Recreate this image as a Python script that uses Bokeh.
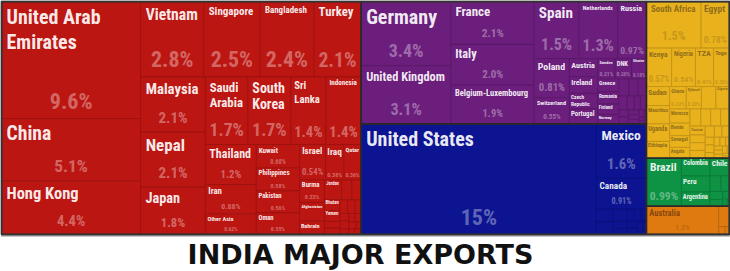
import math
from bokeh.plotting import figure
from bokeh.models import Range1d, ColumnDataSource
from bokeh.embed import file_html
from bokeh.resources import INLINE
from bokeh.core.properties import value

# ---------------- data ----------------
title_text = "INDIA MAJOR EXPORTS"

continents = ["Asia", "Europe", "North America", "Africa", "South America", "Oceania"]
continent_colors = ["#BC1612", "#6B1E7C", "#0C1491", "#E9B11C", "#0E9345", "#DF7A10"]
continent_text_colors = ["#FFFFFF", "#FFFFFF", "#FFFFFF", "#86661A", "#FFFFFF", "#7E420C"]

asia_countries = ["United Arab Emirates", "China", "Hong Kong", "Vietnam", "Singapore", "Bangladesh",
                  "Turkey", "Malaysia", "Nepal", "Japan", "Saudi Arabia", "South Korea", "Sri Lanka",
                  "Indonesia", "Thailand", "Iran", "Other Asia", "Kuwait", "Philippines", "Pakistan",
                  "Oman", "Israel", "Iraq", "Qatar", "Burma", "Afghanistan", "Bahrain", "Jordan",
                  "Cambodia", "Kazakhstan", "Bhutan", "Yemen", "Georgia", "Uzbekistan", "Maldives",
                  "Lebanon", "Azerbaijan", "Syria", "Brunei", "Kyrgyzstan", "Macau", "Laos",
                  "Tajikistan", "Mongolia", "Armenia", "Turkmenistan"]
asia_shares = [9.6, 5.1, 4.4, 2.8, 2.5, 2.4,
               2.1, 2.1, 2.1, 1.8, 1.7, 1.7, 1.4,
               1.4, 1.2, 0.88, 0.62, 0.60, 0.58, 0.56,
               0.55, 0.54, 0.38, 0.36, 0.33, 0.27, 0.20, 0.20,
               0.12, 0.11, 0.10, 0.10, 0.06, 0.06, 0.06,
               0.06, 0.05, 0.04, 0.04, 0.03, 0.03, 0.03,
               0.03, 0.02, 0.02, 0.02]

europe_countries = ["Germany", "United Kingdom", "France", "Italy", "Belgium-Luxembourg", "Spain",
                    "Netherlands", "Russia", "Poland", "Switzerland", "Austria", "Ireland",
                    "Czech Republic", "Portugal", "Sweden", "DNK", "Ukraine", "Greece", "Romania",
                    "Finland", "Norway", "Hungary", "Slovenia", "Slovakia", "Bulgaria", "Croatia",
                    "Malta", "Lithuania", "Latvia", "Estonia", "Serbia", "Belarus", "Cyprus",
                    "Albania", "Bosnia", "Macedonia", "Moldova", "Iceland"]
europe_shares = [3.4, 3.1, 2.1, 2.0, 1.9, 1.5,
                 1.3, 0.97, 0.81, 0.55, 0.30, 0.28,
                 0.26, 0.25, 0.21, 0.20, 0.18, 0.16, 0.15,
                 0.13, 0.12, 0.10, 0.09, 0.08, 0.07, 0.06,
                 0.05, 0.05, 0.04, 0.04, 0.03, 0.03, 0.03,
                 0.02, 0.01, 0.01, 0.01, 0.01]

north_america_countries = ["United States", "Mexico", "Canada", "Guatemala", "Dominican Republic",
                           "Panama", "Honduras", "Jamaica", "Trinidad and Tobago", "Costa Rica",
                           "El Salvador", "Haiti", "Nicaragua", "Cuba", "Bahamas", "Barbados"]
north_america_shares = [15.3, 1.6, 0.91, 0.12, 0.12,
                        0.10, 0.06, 0.05, 0.05, 0.05,
                        0.04, 0.04, 0.04, 0.03, 0.02, 0.02]

africa_countries = ["South Africa", "Egypt", "Kenya", "Nigeria", "TZA", "Togo", "Sudan", "Mauritius",
                    "Uganda", "Ethiopia", "Ghana", "Djibouti", "Mozambique", "Algeria", "Morocco",
                    "Benin", "Senegal", "Angola", "Somalia", "Madagascar", "Cameroon", "Cote d'Ivoire",
                    "Tunisia", "DR Congo", "Guinea", "Zambia", "Libya", "Zimbabwe", "Malawi", "Liberia",
                    "Congo", "Gabon", "Burkina Faso", "Mali", "Niger", "Sierra Leone", "Rwanda",
                    "Namibia", "Botswana", "Gambia", "Seychelles", "Mauritania"]
africa_shares = [1.5, 0.78, 0.57, 0.54, 0.41, 0.36, 0.26, 0.25,
                 0.24, 0.23, 0.22, 0.20, 0.19, 0.18, 0.17,
                 0.15, 0.14, 0.13, 0.11, 0.10, 0.10, 0.09,
                 0.08, 0.07, 0.07, 0.07, 0.06, 0.05, 0.05, 0.04,
                 0.04, 0.03, 0.03, 0.03, 0.02, 0.02, 0.02,
                 0.02, 0.02, 0.01, 0.01, 0.01]

south_america_countries = ["Brazil", "Colombia", "Peru", "Argentina", "Chile", "Ecuador", "Venezuela",
                           "Paraguay", "Uruguay", "Bolivia", "Guyana", "Suriname"]
south_america_shares = [0.99, 0.30, 0.27, 0.24, 0.20, 0.10, 0.08,
                        0.06, 0.05, 0.03, 0.02, 0.01]

oceania_countries = ["Australia", "New Zealand", "Papua New Guinea", "Fiji"]
oceania_shares = [1.2, 0.13, 0.03, 0.02]

groups = [
    (asia_countries, asia_shares),
    (europe_countries, europe_shares),
    (north_america_countries, north_america_shares),
    (africa_countries, africa_shares),
    (south_america_countries, south_america_shares),
    (oceania_countries, oceania_shares),
]

# ---------------- styling ----------------
W, H = 730, 271
TM = (1.0, 1.0, 729.0, 234.0)  # treemap area
LABEL_FONT = "'Liberation Sans Narrow', 'Roboto Condensed', Roboto, sans-serif"
TITLE_FONT = "DejaVu Sans"
NAME_MAX, PCT_MAX, MIN_FS, MIN_PCT = 20.0, 22.0, 3.6, 4.6
PHI = (1 + 5 ** 0.5) / 2


# ---------------- d3-style squarified treemap ----------------
def dice(vals, x0, y0, x1, y1, total):
    k = (x1 - x0) / total if total else 0
    out, x = [], x0
    for v in vals:
        out.append((x, y0, x + v * k, y1))
        x += v * k
    return out


def slice_(vals, x0, y0, x1, y1, total):
    k = (y1 - y0) / total if total else 0
    out, y = [], y0
    for v in vals:
        out.append((x0, y, x1, y + v * k))
        y += v * k
    return out


def squarify(values, x0, y0, x1, y1, ratio=PHI):
    rects = []
    n = len(values)
    i0 = i1 = 0
    total = float(sum(values))
    while i0 < n:
        dx, dy = x1 - x0, y1 - y0
        s = values[i1]
        i1 += 1
        mn = mx = s
        alpha = max(dy / dx, dx / dy) / (total * ratio)
        beta = s * s * alpha
        best = max(mx / beta, beta / mn)
        while i1 < n:
            nv = values[i1]
            s += nv
            mn, mx = min(mn, nv), max(mx, nv)
            beta = s * s * alpha
            r = max(mx / beta, beta / mn)
            if r > best:
                s -= nv
                break
            best = r
            i1 += 1
        row = values[i0:i1]
        if dx < dy:
            ny = y0 + dy * s / total
            rects += dice(row, x0, y0, x1, ny, s)
            y0 = ny
        else:
            nx = x0 + dx * s / total
            rects += slice_(row, x0, y0, nx, y1, s)
            x0 = nx
        total -= s
        i0 = i1
    return rects


def mix(c, t, other=(0, 0, 0)):
    r, g, b = int(c[1:3], 16), int(c[3:5], 16), int(c[5:7], 16)
    r, g, b = [round(a + (o - a) * t) for a, o in zip((r, g, b), other)]
    return "#%02x%02x%02x" % (r, g, b)


def text_em(s):
    w = 0.0
    for ch in s:
        if ch in "il.,'|!I":
            w += 0.28
        elif ch in "jft":
            w += 0.33
        elif ch == "r":
            w += 0.39
        elif ch == "m":
            w += 0.89
        elif ch == "M":
            w += 0.83
        elif ch == "w":
            w += 0.78
        elif ch == "W":
            w += 0.94
        elif ch == " ":
            w += 0.28
        elif ch == "%":
            w += 0.89
        elif ch == "-":
            w += 0.33
        elif ch.isdigit():
            w += 0.556
        elif ch.isupper():
            w += 0.72
        else:
            w += 0.6
    return w * 0.84


def fmt(v):
    if v >= 10:
        return "%.0f%%" % v
    if v >= 1:
        return "%.1f%%" % v
    return "%.2f%%" % v


# order continents and countries by value
cont_order = sorted(range(len(groups)), key=lambda i: -sum(groups[i][1]))
cont_totals = [sum(groups[i][1]) for i in cont_order]
cont_rects = squarify(cont_totals, *TM)

leaf = dict(left=[], right=[], top=[], bottom=[], fill=[], line=[])
outl = dict(left=[], right=[], top=[], bottom=[])
names = dict(x=[], y=[], text=[], size=[], color=[])
pcts = dict(x=[], y=[], text=[], size=[], color=[])

for ci, (cx0, cy0, cx1, cy1) in zip(cont_order, cont_rects):
    cn, cv = groups[ci]
    order = sorted(range(len(cv)), key=lambda i: -cv[i])
    vals = [cv[i] for i in order]
    rects = squarify(vals, cx0, cy0, cx1, cy1)
    col = continent_colors[ci]
    tcol = continent_text_colors[ci]
    outl["left"].append(cx0); outl["right"].append(cx1)
    outl["top"].append(cy0); outl["bottom"].append(cy1)
    for i, (x0, y0, x1, y1) in zip(order, rects):
        leaf["left"].append(x0); leaf["right"].append(x1)
        leaf["top"].append(y0); leaf["bottom"].append(y1)
        leaf["fill"].append(col); leaf["line"].append(mix(col, 0.16))
        w, h = x1 - x0, y1 - y0
        pad = max(1.0, min(5.0, 0.1 * min(w, h)))
        aw, ah = w - 2 * pad, h - 2 * pad
        name = cn[i]
        pct = fmt(cv[i])
        words = name.split(" ")
        options = [[name]]
        if len(words) > 1:
            splits = [[" ".join(words[:k]), " ".join(words[k:])] for k in range(1, len(words))]
            splits.sort(key=lambda o: max(text_em(l) for l in o))
            options.append(splits[0])

        def best_fit(extra):
            sizes = [min(NAME_MAX, aw / max(text_em(l) for l in opt), ah / (1.15 * len(opt) + extra))
                     for opt in options]
            if len(sizes) > 1 and sizes[1] > 1.25 * sizes[0]:
                return sizes[1], options[1]
            return sizes[0], options[0]

        sn, lines = best_fit(1.5)
        sp = min(PCT_MAX, aw / text_em(pct), ah / 3.0)
        show_pct = sn >= MIN_FS and sp >= MIN_PCT and h >= 20
        if not show_pct:
            sn, lines = best_fit(0.0)
            sn = min(sn, 0.45 * h)
        if sn >= MIN_FS:
            names["x"].append(x0 + pad); names["y"].append(y0 + pad * 0.6)
            names["text"].append("\n".join(lines)); names["size"].append("%.1fpx" % sn)
            names["color"].append(tcol)
        if show_pct:
            pcts["x"].append((x0 + x1) / 2); pcts["y"].append(y1 - pad)
            pcts["text"].append(pct); pcts["size"].append("%.1fpx" % sp)
            pcts["color"].append(tcol)

# ---------------- figure ----------------
p = figure(width=W, height=H, x_range=Range1d(0, W), y_range=Range1d(H, 0),
           output_backend="svg", toolbar_location=None, min_border=0,
           x_axis_location=None, y_axis_location=None)
p.grid.visible = False
p.outline_line_color = None
p.background_fill_color = "white"
p.border_fill_color = "white"

p.quad(left="left", right="right", top="top", bottom="bottom", fill_color="fill",
       line_color="line", line_width=1, source=ColumnDataSource(leaf))
p.quad(left="left", right="right", top="top", bottom="bottom", fill_color=None,
       line_color="#2a2a2a", line_width=1.5, source=ColumnDataSource(outl))
p.quad(left=[TM[0]], right=[TM[2]], top=[TM[1]], bottom=[TM[3]], fill_color=None,
       line_color="#333333", line_width=2)
p.segment(x0=[0], x1=[W], y0=[236], y1=[236], line_color="#c8c8c8", line_width=1)

p.text(x="x", y="y", text="text", text_font_size="size", text_color="color",
       text_alpha=0.92, text_font=value(LABEL_FONT), text_font_style="bold",
       text_align="left", text_baseline="top", text_line_height=1.05,
       source=ColumnDataSource(names))
p.text(x="x", y="y", text="text", text_font_size="size", text_color="color",
       text_alpha=0.36, text_font=value(LABEL_FONT), text_font_style="bold",
       text_align="center", text_baseline="bottom",
       source=ColumnDataSource(pcts))

p.text(x=[360], y=[253.5], text=[title_text], text_font=value(TITLE_FONT),
       text_font_style="bold", text_font_size="27px", text_color="#111111",
       text_align="center", text_baseline="middle")

open("out.html", "w").write(file_html(p, INLINE))
